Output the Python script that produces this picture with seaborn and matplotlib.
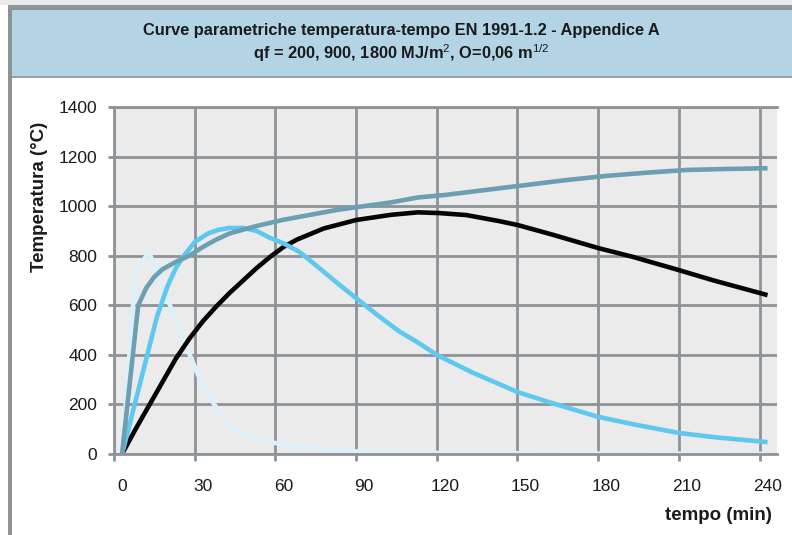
import numpy as np
import pandas as pd
import matplotlib
matplotlib.use("Agg")
import matplotlib.pyplot as plt
import seaborn as sns
from matplotlib.patches import Rectangle

# Parametric fire curves: time (min) and gas temperature (°C)
t_a = [0, 5, 10, 24, 29, 34, 39, 44, 50, 55, 66, 78, 91, 120, 180, 240]
T_a = [0, 735, 815, 430, 300, 205, 125, 85, 62, 48, 28, 16, 8, 4, 2, 1]

t_b = [0, 13, 17, 20, 23, 27, 32, 36, 40, 45, 50, 55, 60, 66, 75, 80, 87, 95,
       103, 110, 117, 130, 147, 160, 177, 190, 207, 220, 240]
T_b = [0, 555, 680, 750, 800, 855, 890, 905, 912, 912, 900, 872, 850, 815, 735,
       690, 629, 560, 495, 450, 400, 330, 250, 205, 150, 120, 85, 68, 48]

t_c = [0, 6, 9, 12, 15, 20, 25, 30, 35, 40, 50, 60, 70, 80, 90, 100, 110, 120,
       135, 150, 165, 180, 195, 210, 225, 240]
T_c = [0, 600, 670, 715, 745, 775, 800, 835, 865, 890, 920, 945, 965, 985, 1000,
       1015, 1035, 1045, 1065, 1085, 1105, 1122, 1135, 1146, 1150, 1153]

t_d = [0, 5, 10, 15, 20, 25, 30, 35, 40, 45, 50, 55, 60, 65, 75, 87, 100, 110,
       118, 128, 140, 147, 160, 177, 190, 207, 220, 240]
T_d = [0, 100, 195, 290, 385, 465, 535, 595, 650, 700, 750, 795, 835, 865, 910,
       944, 965, 975, 972, 964, 940, 924, 885, 831, 795, 742, 700, 641]

series_names = ["qf 200", "qf 1800 b", "qf 900", "qf 1800"]
series_colors = ["#dcf0fa", "#050505", "#5ec8ef", "#6c9fb4"]

x_ticks = [0, 30, 60, 90, 120, 150, 180, 210, 240]
y_ticks = [0, 200, 400, 600, 800, 1000, 1200, 1400]

title_1 = "Curve parametriche temperatura-tempo EN 1991-1.2 - Appendice A"
title_2 = r"qf = 200, 900, 1800 MJ/m$^{2}$, O=0,06 m$^{1/2}$"

frames = []
for name, t, T in zip(series_names,
                      [t_a, t_d, t_b, t_c],
                      [T_a, T_d, T_b, T_c]):
    frames.append(pd.DataFrame({"tempo": t, "temp": T, "curva": name}))
df = pd.concat(frames, ignore_index=True)

sns.set_theme(style="white")
plt.rcParams["font.family"] = ["Liberation Sans", "DejaVu Sans"]
plt.rcParams["mathtext.fontset"] = "custom"
plt.rcParams["mathtext.rm"] = "Liberation Sans"
plt.rcParams["mathtext.default"] = "rm"

W, H = 792, 535
fig = plt.figure(figsize=(W / 100, H / 100), dpi=100)

# header band and frame
edge = "#8d9397"
fig.patches.append(Rectangle((0, 1 - 5 / H), 1, 5 / H, transform=fig.transFigure,
                             facecolor="#e9e9e9", edgecolor="none", zorder=0))
fig.patches.append(Rectangle((8 / W, 1 - 77 / H), 1 - 8 / W, 72 / H,
                             transform=fig.transFigure, facecolor="#b3d4e4",
                             edgecolor="none", zorder=1))
fig.patches.append(Rectangle((8 / W, 1 - 10 / H), 1 - 8 / W, 5 / H,
                             transform=fig.transFigure, facecolor=edge,
                             edgecolor="none", zorder=2))
fig.patches.append(Rectangle((8 / W, 1 - 78 / H), 1 - 8 / W, 1.5 / H,
                             transform=fig.transFigure, facecolor="#9aa0a4",
                             edgecolor="none", zorder=2))
fig.patches.append(Rectangle((8 / W, 0), 4 / W, 1 - 5 / H,
                             transform=fig.transFigure, facecolor=edge,
                             edgecolor="none", zorder=2))

title_font = ["Liberation Sans", "DejaVu Sans"]
fig.text(401 / W, 1 - 30 / H, title_1, ha="center", va="center",
         fontsize=11.8, fontweight="bold", family=title_font, color="#1a1a1a")
fig.text(401 / W, 1 - 53 / H, title_2, ha="center", va="center",
         fontsize=11.8, fontweight="bold", family=title_font, color="#1a1a1a")

ax = fig.add_axes([114 / W, 1 - 454 / H, (777 - 114) / W, (454 - 107) / H])
ax.set_facecolor("#ebebeb")

sns.lineplot(data=df, x="tempo", y="temp", hue="curva", hue_order=series_names,
             palette=series_colors, estimator=None, sort=False, linewidth=3.3,
             legend=False, ax=ax)
for ln in ax.lines:
    ln.set_solid_capstyle("butt")
    ln.set_solid_joinstyle("round")

ax.set_xlim(-3.0, 243.5)
ax.set_ylim(0, 1400)
ax.set_xlabel("")
ax.set_ylabel("")

grid_c = "#8d9397"
ax.set_xticks(x_ticks)
ax.set_xticklabels([str(v) for v in x_ticks])
ax.set_xticks(np.arange(-3, 240, 30), minor=True)
ax.set_yticks(y_ticks)
ax.set_yticklabels([str(v) for v in y_ticks])

ax.tick_params(axis="x", which="major", length=0, pad=18, labelsize=12.5,
               labelcolor="#1a1a1a")
ax.tick_params(axis="x", which="minor", length=5, width=2, color=grid_c,
               direction="out", bottom=True)
ax.tick_params(axis="y", which="major", length=4, width=2, color=grid_c,
               direction="out", left=True, pad=8, labelsize=12.5,
               labelcolor="#1a1a1a")

ax.grid(False)
ax.xaxis.grid(True, which="minor", color=grid_c, linewidth=2)
ax.yaxis.grid(True, which="major", color=grid_c, linewidth=2)
ax.set_axisbelow(True)

for side in ["left", "bottom", "top"]:
    ax.spines[side].set_visible(True)
    ax.spines[side].set_color(grid_c)
    ax.spines[side].set_linewidth(2)
ax.spines["right"].set_visible(False)

fig.text(40 / W, 1 - 197 / H, "Temperatura (°C)", rotation=90, ha="center",
         va="center", fontsize=13.5, fontweight="bold", color="#1a1a1a")
fig.text(772 / W, 1 - 515 / H, "tempo (min)", ha="right", va="center",
         fontsize=13.5, fontweight="bold", color="#1a1a1a")

fig.savefig("out.png", dpi=100)
